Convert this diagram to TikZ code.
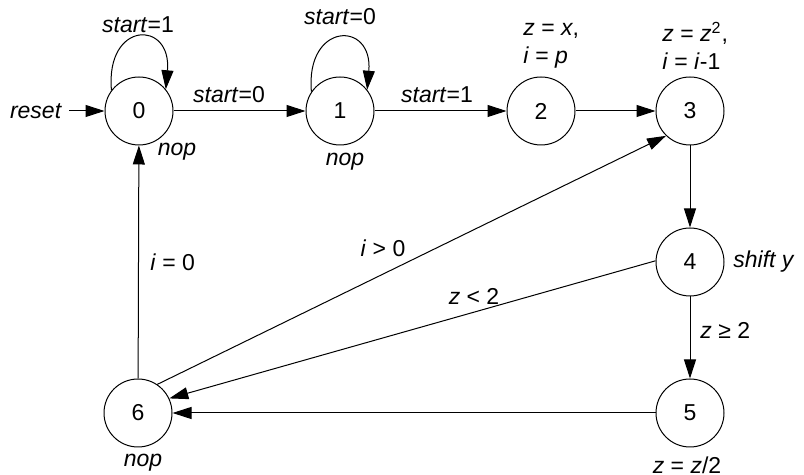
\documentclass[tikz,border=0pt]{standalone}
\usepackage{fontspec}
\setmainfont{Liberation Sans}
\usetikzlibrary{arrows.meta,positioning}
\tikzset{
  every node/.style={font=\fontsize{11.5}{14}\selectfont, text=black},
  state/.style={draw, circle, line width=0.5pt, minimum size=34pt, inner sep=0pt},
  transition/.style={-{Triangle[length=9.5pt,width=6pt]}, draw=black, line width=0.5pt},
  note/.style={inner sep=1pt, align=left},
}

\begin{document}
\begin{tikzpicture}[x=0.5pt,y=0.5pt]
  \useasboundingbox (0,0) rectangle (804,475);

  % States of the machine
  \node[state] (s0) at (139,364) {0};
  \node[state] (s1) at (340,364) {1};
  \node[state] (s2) at (541,364) {2};
  \node[state] (s3) at (690,364) {3};
  \node[state] (s4) at (690,213) {4};
  \node[state] (s5) at (690,62) {5};
  \node[state] (s6) at (138,62) {6};

  % Reset entry
  \node (rst) at (36,364) {\textit{reset}};
  \draw[transition] (rst) -- (s0);

  % Self loops while waiting
  \draw[transition] (s0.143) .. controls +(95:70) and +(85:70) .. (s0.39);
  \node (l00) at (138,450) {\textit{start}=1};
  \draw[transition] (s1.146) .. controls +(95:70) and +(85:70) .. (s1.38);
  \node (l11) at (340,458) {\textit{start}=0};

  % Top row
  \draw[transition] (s0) -- (s1);
  \node (l01) at (229,380) {\textit{start}=0};
  \draw[transition] (s1) -- (s2);
  \node (l12) at (437,380) {\textit{start}=1};
  \draw[transition] (s2) -- (s3);

  % Right column
  \draw[transition] (s3) -- (s4);
  \draw[transition] (s4) -- (s5);
  \node[note, anchor=west] (l45) at (698,145) {\textit{z} ≥ 2};

  % Back to state 6 and on
  \draw[transition] (s5) -- (s6);
  \draw[transition] (s4.178) -- (s6.25);
  \node (l46) at (474,179) {\textit{z} < 2};
  \draw[transition] (s6.56) -- (s3.226);
  \node (l63) at (383,227) {\textit{i} > 0};
  \draw[transition] (s6) -- (s0);
  \node[note, anchor=west] (l60) at (148,213) {\textit{i} = 0};

  % Actions of the states
  \node (a0) at (177,323) {\textit{nop}};
  \node (a1) at (345,313) {\textit{nop}};
  \node[note, anchor=west] (a2) at (521,429) {\textit{z} = \textit{x},\\\textit{i} = \textit{p}};
  \node[note, anchor=west] (a3) at (660,429) {\textit{z} = \textit{z}\textsuperscript{2},\\\textit{i} = \textit{i}-1};
  \node[note, anchor=west] (a4) at (731,213) {\textit{shift y}};
  \node (a5) at (687,10) {\textit{z} = \textit{z}/2};
  \node (a6) at (143,12) {\textit{nop}};
\end{tikzpicture}
\end{document}
